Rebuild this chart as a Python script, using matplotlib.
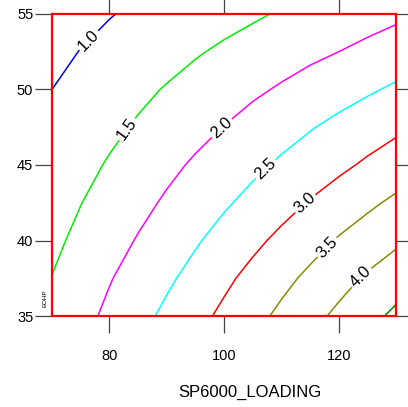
import matplotlib
matplotlib.use("Agg")
import matplotlib.pyplot as plt
import numpy as np

plt.rcParams['font.family'] = ['Liberation Sans', 'DejaVu Sans']

# Response surface sampled on a regular grid
loading = [70, 75, 80, 85, 90, 95, 100, 105, 110, 115, 120, 125, 130]
eohp = [35, 37.5, 40, 42.5, 45, 47.5, 50, 52.5, 55]
response = [
    [1.60, 1.85, 2.10, 2.35, 2.60, 2.85, 3.10, 3.35, 3.60, 3.85, 4.10, 4.35, 4.60],
    [1.51, 1.74, 1.97, 2.20, 2.42, 2.65, 2.90, 3.14, 3.37, 3.60, 3.83, 4.06, 4.27],
    [1.40, 1.61, 1.82, 2.03, 2.24, 2.45, 2.67, 2.89, 3.11, 3.32, 3.54, 3.73, 3.92],
    [1.30, 1.49, 1.68, 1.87, 2.06, 2.25, 2.44, 2.63, 2.83, 3.03, 3.22, 3.41, 3.59],
    [1.20, 1.37, 1.54, 1.72, 1.89, 2.06, 2.23, 2.40, 2.57, 2.73, 2.90, 3.07, 3.24],
    [1.10, 1.25, 1.40, 1.55, 1.71, 1.86, 2.01, 2.17, 2.32, 2.47, 2.62, 2.77, 2.91],
    [1.00, 1.13, 1.26, 1.40, 1.53, 1.66, 1.79, 1.92, 2.05, 2.18, 2.31, 2.44, 2.57],
    [0.90, 1.01, 1.12, 1.23, 1.34, 1.46, 1.57, 1.68, 1.79, 1.90, 2.00, 2.11, 2.23],
    [0.80, 0.89, 0.98, 1.07, 1.17, 1.26, 1.35, 1.44, 1.54, 1.63, 1.72, 1.82, 1.91],
]

levels = [1.0, 1.5, 2.0, 2.5, 3.0, 3.5, 4.0, 4.5]
level_colors = ['#0000ee', '#00ee00', '#ff00ff', '#00ffff', '#ff0000',
                '#8b8b00', '#8b8b00', '#008800']
label_spots = [(75.2, 53.7), (82.2, 47.6), (98.7, 47.8), (106.3, 45.1),
               (113.3, 42.8), (117.3, 39.8), (123.1, 37.9)]

x_ticks = [80, 100, 120]
y_ticks = [35, 40, 45, 50, 55]

fig = plt.figure(figsize=(4.08, 4.07), dpi=100)
ax = fig.add_axes([52 / 408, 91 / 407, 344 / 408, 302 / 407])

X, Y = np.meshgrid(loading, eohp)
Z = np.array(response)
cs = ax.contour(X, Y, Z, levels=levels, colors=level_colors, linewidths=1.1)
ax.clabel(cs, levels=levels[:-1], manual=label_spots, inline=True,
          fmt='%.1f', fontsize=12, colors='black', inline_spacing=2)

ax.set_xlim(70, 130)
ax.set_ylim(35, 55)
ax.set_xticks(x_ticks)
ax.set_yticks(y_ticks)

for side in ax.spines.values():
    side.set_color('#ff0000')
    side.set_linewidth(1.6)

ax.tick_params(axis='both', which='major', direction='out', length=12,
               width=0.9, color='#444444', labelsize=10.5,
               top=True, right=True, labeltop=False, labelright=False)
ax.tick_params(axis='x', pad=12)
ax.tick_params(axis='y', pad=1.5)

ax.set_xlabel('SP6000_LOADING', fontsize=12, va='center')
ax.xaxis.set_label_coords(0.575, -0.252)

ax.text(-0.02, 0.06, 'EOHP', transform=ax.transAxes, rotation=90,
        fontsize=4.5, ha='center', va='center')

fig.savefig('out.png', dpi=100)
